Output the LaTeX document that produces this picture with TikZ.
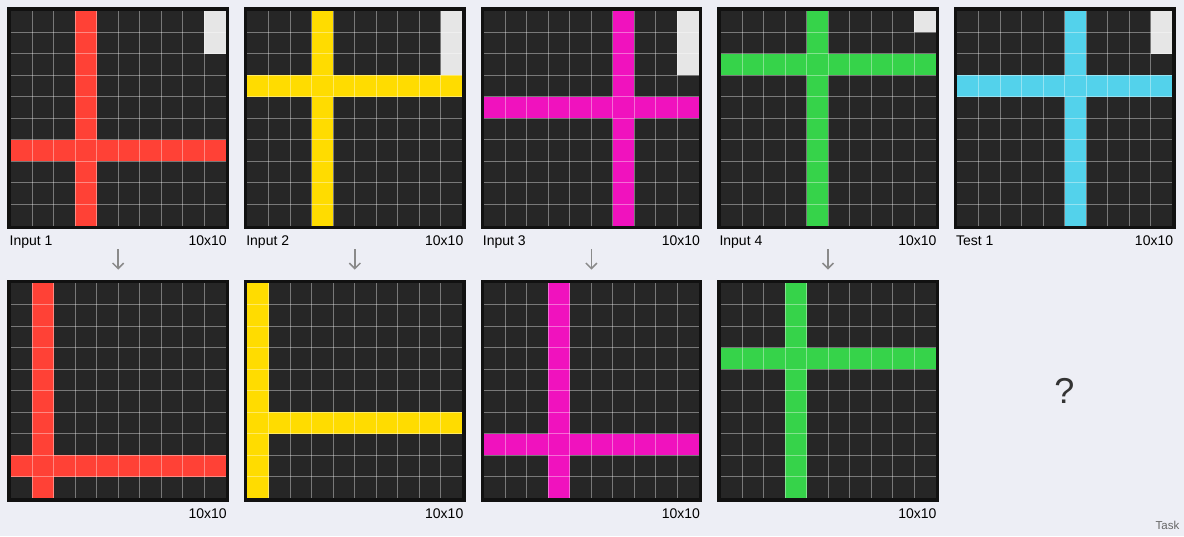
\documentclass[tikz,border=0pt]{standalone}
\usepackage{fontspec}
\setmainfont{Liberation Sans}
\usetikzlibrary{arrows.meta}
\definecolor{pagebg}{HTML}{EDEEF5}
\definecolor{cellc}{HTML}{262626}
\definecolor{framec}{HTML}{111111}
\definecolor{arcred}{HTML}{FF4136}
\definecolor{arcyellow}{HTML}{FFDC00}
\definecolor{arcmagenta}{HTML}{F012BE}
\definecolor{arcgreen}{HTML}{36D34A}
\definecolor{arccyan}{HTML}{53D2EB}
\definecolor{arcgray}{HTML}{E6E6E6}
\definecolor{arrowc}{HTML}{8A8A8A}
\definecolor{taskc}{HTML}{666666}
\definecolor{qc}{HTML}{333333}
\tikzset{
  gline/.style={draw=white, draw opacity=0.38, line width=0.9pt},
  frame/.style={draw=framec, line width=3.4pt, inner sep=0pt, outer sep=0pt,
    minimum width=218.4pt, minimum height=218.4pt},
  lbl/.style={font=\fontsize{14}{16}\selectfont, text=black, inner sep=0pt},
  flow/.style={draw=arrowc, line width=1.5pt, -{Straight Barb[length=5.5pt,width=11pt]}},
}
\newcommand{\arcpanel}[7]{% name, x, y, col, row, colour, gray count
  \begin{scope}[shift={(#2,#3)}]
    \fill[cellc] (3.4,3.4) rectangle (218.4,218.4);
    \fill[#6] (3.4,{3.4+#5*21.5}) rectangle ++(215,21.5);
    \fill[#6] ({3.4+#4*21.5},3.4) rectangle ++(21.5,215);
    \ifnum#7>0 \fill[arcgray] ({3.4+9*21.5},3.4) rectangle ++(21.5,{#7*21.5});\fi
    \foreach \i in {1,...,9}{
      \draw[gline] ({3.4+\i*21.5},3.4) -- ({3.4+\i*21.5},218.4);
      \draw[gline] (3.4,{3.4+\i*21.5}) -- (218.4,{3.4+\i*21.5});
    }
    \node[frame] (#1) at (110.9,110.9) {};
  \end{scope}}
\begin{document}
\begin{tikzpicture}[x=1pt,y=-1pt]
  \useasboundingbox (0,0) rectangle (1184,536);
  \fill[pagebg] (0,0) rectangle (1184,536);
  % inputs
  \arcpanel{in1}{7.3}{7.3}{3}{6}{arcred}{2}
  \arcpanel{in2}{243.9}{7.3}{3}{3}{arcyellow}{3}
  \arcpanel{in3}{480.5}{7.3}{6}{4}{arcmagenta}{3}
  \arcpanel{in4}{717.1}{7.3}{4}{2}{arcgreen}{1}
  \arcpanel{test1}{953.7}{7.3}{5}{3}{arccyan}{2}
  % outputs
  \arcpanel{out1}{7.3}{279.9}{1}{8}{arcred}{0}
  \arcpanel{out2}{243.9}{279.9}{0}{6}{arcyellow}{0}
  \arcpanel{out3}{480.5}{279.9}{3}{7}{arcmagenta}{0}
  \arcpanel{out4}{717.1}{279.9}{3}{3}{arcgreen}{0}
  % labels
  \foreach \n/\x/\t in {l1/7.3/Input 1, l2/243.9/Input 2, l3/480.5/Input 3, l4/717.1/Input 4, l5/953.7/Test 1}{
    \node[lbl, anchor=base west] (\n) at ({\x+2.2},245) {\t};
    \node[lbl, anchor=base east] (\n s) at ({\x+219.6},245) {10x10};
  }
  \foreach \n/\x in {o1/7.3, o2/243.9, o3/480.5, o4/717.1}{
    \node[lbl, anchor=base east] (\n s) at ({\x+219.6},518) {10x10};
  }
  % arrows
  \foreach \k in {1,2,3,4}{
    \draw[flow] ([yshift=-22pt]in\k.south) -- ([yshift=12pt]out\k.north);
  }
  \node[font=\fontsize{36}{40}\selectfont, text=qc, inner sep=0pt] (q) at (1064.4,391) {?};
  \node[font=\fontsize{11.5}{13}\selectfont, text=taskc, inner sep=0pt, anchor=base east] (task) at (1179.5,529) {Task};
\end{tikzpicture}
\end{document}
